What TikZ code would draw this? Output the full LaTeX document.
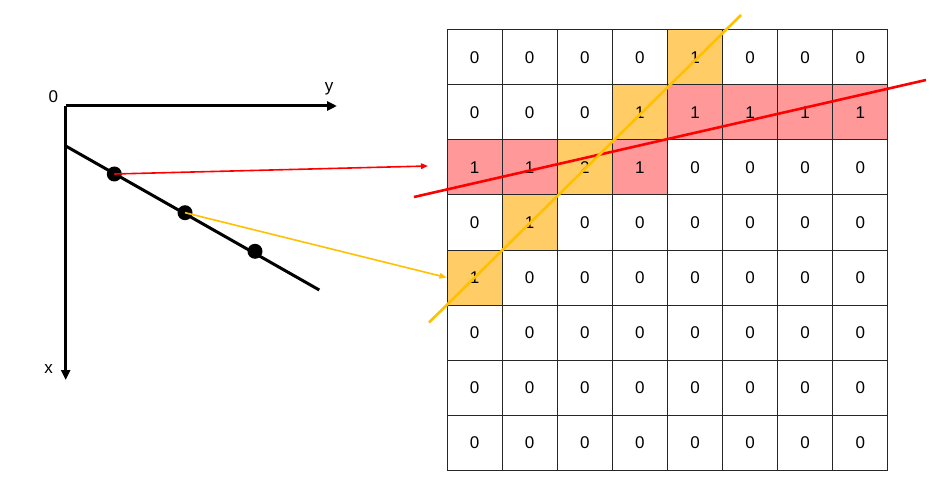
\documentclass[tikz,border=0pt]{standalone}
\usepackage{fontspec}
\setmainfont{Liberation Sans}
\usetikzlibrary{arrows.meta}
\definecolor{cellred}{HTML}{FF9999}
\definecolor{cellyel}{HTML}{FFCC66}
\definecolor{lineyel}{HTML}{FFC000}
\begin{document}
\begin{tikzpicture}[x=1pt,y=-1pt,
  cell/.style={draw=black!85, line width=1pt, minimum width=55.1pt, minimum height=55pt,
    inner sep=0pt, font=\fontsize{17}{20}\selectfont},
  lbl/.style={font=\fontsize{17}{20}\selectfont, inner sep=0pt},
  axis/.style={line width=3pt, -{Triangle[length=10pt,width=9pt]}},
  dot/.style={circle, fill=black, minimum size=15pt, inner sep=0pt},
  thinred/.style={red, line width=1.6pt, -{Triangle[length=7pt,width=5.5pt]}},
  thinyel/.style={lineyel, line width=1.6pt, -{Triangle[length=7pt,width=5.5pt]}},
  bigline/.style={line width=2.6pt}]
\useasboundingbox (0,0) rectangle (943,500);
\fill[white] (0,0) rectangle (943,500);
% grid
\foreach \r/\row in {
  0/{0/white,0/white,0/white,0/white,1/cellyel,0/white,0/white,0/white},
  1/{0/white,0/white,0/white,1/cellyel,1/cellred,1/cellred,1/cellred,1/cellred},
  2/{1/cellred,1/cellred,2/cellyel,1/cellred,0/white,0/white,0/white,0/white},
  3/{0/white,1/cellyel,0/white,0/white,0/white,0/white,0/white,0/white},
  4/{1/cellyel,0/white,0/white,0/white,0/white,0/white,0/white,0/white},
  5/{0/white,0/white,0/white,0/white,0/white,0/white,0/white,0/white},
  6/{0/white,0/white,0/white,0/white,0/white,0/white,0/white,0/white},
  7/{0/white,0/white,0/white,0/white,0/white,0/white,0/white,0/white}}{
  \foreach[count=\c from 0] \v/\f in \row {
    \node[cell, fill=\f] (c\r\c) at (474.6+\c*55.1, 57.5+\r*55) {\v};
  }
}
% lines through grid
\coordinate (ra) at (414,197);
\coordinate (rb) at (926,80);
\coordinate (ya) at (741,15);
\coordinate (yb) at (429,322.5);
\draw[bigline, red] (ra) -- (rb);
\draw[bigline, lineyel] (ya) -- (yb);
% axes
\coordinate (o) at (65.7,106);
\coordinate (ytip) at (337,106);
\coordinate (xtip) at (65.7,380);
\draw[axis] (o) -- (ytip);
\draw[axis] (o) -- (xtip);
\node[lbl] (l0) at (53.3,97) {0};
\node[lbl] (ly) at (329,89) {y};
\node[lbl] (lx) at (48.5,369) {x};
% black line with dots
\coordinate (la) at (65.7,146);
\coordinate (lb) at (319.3,290);
\draw[line width=3pt] (la) -- (lb);
\node[dot] (d1) at (114.3,174) {};
\node[dot] (d2) at (185,212.7) {};
\node[dot] (d3) at (255,251.3) {};
% arrows
\coordinate (rtip) at (428,166);
\draw[thinred] (d1.center) -- (rtip);
\draw[thinyel] (d2.center) -- (c40.west);
\end{tikzpicture}
\end{document}
